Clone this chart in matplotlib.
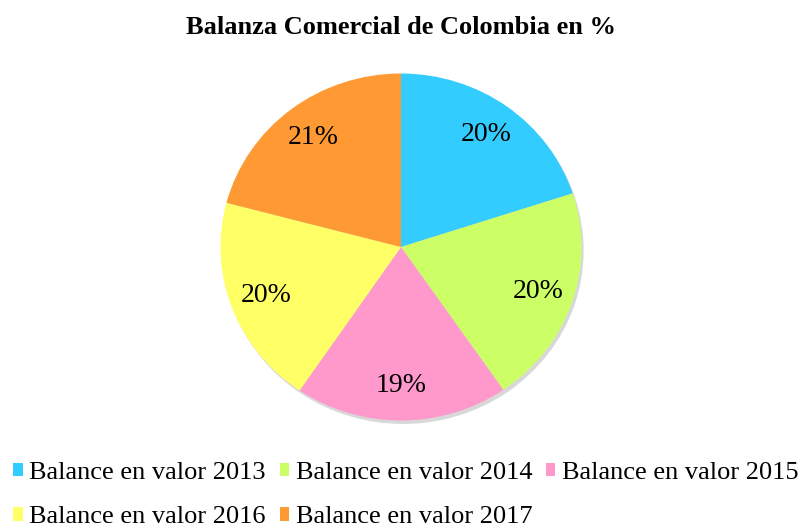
import matplotlib
matplotlib.use("Agg")
import matplotlib.pyplot as plt

categories = ["Balance en valor 2013", "Balance en valor 2014", "Balance en valor 2015",
              "Balance en valor 2016", "Balance en valor 2017"]
values = [20.0, 20.4, 19.1, 19.6, 20.9]
colors = ["#33CCFF", "#CCFF66", "#FF99CC", "#FFFF66", "#FF9933"]
title = "Balanza Comercial de Colombia en %"

plt.rcParams['font.family'] = ['Liberation Serif', 'DejaVu Serif']

W, H = 803, 528
fig = plt.figure(figsize=(W / 100, H / 100), dpi=100)
cx, cy, rx, ry = 401, 247, 180.5, 173.5
ax = fig.add_axes([(cx - rx) / W, (H - cy - ry) / H, 2 * rx / W, 2 * ry / H])

# soft shadow behind the pie
ax.pie(values, colors=["#c8c8c8"] * len(values), startangle=90, counterclock=False,
       radius=1.0, center=(0.012, -0.02), wedgeprops=dict(linewidth=0, alpha=0.7))

wedges, texts, autotexts = ax.pie(values, colors=colors, startangle=90, counterclock=False,
                                  radius=1.0, autopct='%1.0f%%', pctdistance=0.8,
                                  wedgeprops=dict(linewidth=0),
                                  textprops=dict(fontsize=20, color='black'))
ax.set_xlim(-1.0, 1.0)
ax.set_ylim(-1.0, 1.0)
ax.set_aspect('auto')
ax.axis('off')

fig.text(0.5, 1 - 28 / H, title, ha='center', va='center', fontsize=19, fontweight='bold')

order = [0, 3, 1, 4, 2]
fig.legend([wedges[i] for i in order], [categories[i] for i in order],
           loc='center', bbox_to_anchor=(406 / W, 1 - 495 / H), ncol=3, frameon=False,
           fontsize=19, handlelength=0.35, handleheight=0.4, handletextpad=0.25,
           columnspacing=0.53, labelspacing=0.86, borderpad=0)

fig.savefig("out.png", dpi=100)
